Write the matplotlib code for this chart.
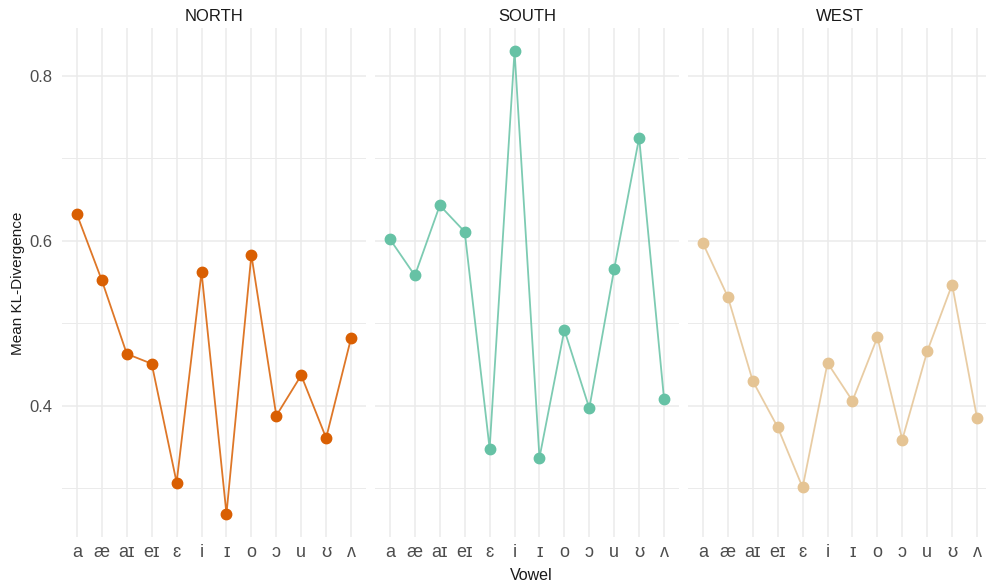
import numpy as np
import matplotlib.pyplot as plt

plt.rcParams['font.family'] = ['Liberation Sans', 'DejaVu Sans']

vowels = ['a', 'æ', 'aɪ', 'eɪ', 'ɛ', 'i', 'ɪ', 'o', 'ɔ', 'u', 'ʊ', 'ʌ']
regions = ['NORTH', 'SOUTH', 'WEST']

north = [0.632, 0.552, 0.463, 0.451, 0.307, 0.562, 0.269, 0.583, 0.388, 0.437, 0.361, 0.482]
south = [0.602, 0.558, 0.643, 0.611, 0.348, 0.830, 0.337, 0.492, 0.397, 0.566, 0.725, 0.408]
west = [0.597, 0.532, 0.430, 0.374, 0.301, 0.452, 0.406, 0.483, 0.359, 0.466, 0.547, 0.385]

colors = ['#D95F02', '#66C2A5', '#E5C494']
series = [north, south, west]

W, H = 986, 586
fig = plt.figure(figsize=(W / 100, H / 100), dpi=100)

# shared y range with ggplot-style 5% expansion
allv = np.concatenate(series)
lo, hi = allv.min(), allv.max()
pad = 0.05 * (hi - lo)
ylim = (lo - pad, hi + pad)

top, bottom = 28, 537
lefts = [62, 375, 688]
pw = 304
grid_c = '#EBEBEB'

x = np.arange(len(vowels))
for i, (reg, vals, col) in enumerate(zip(regions, series, colors)):
    ax = fig.add_axes([lefts[i] / W, (H - bottom) / H, pw / W, (bottom - top) / H])
    ax.plot(x, vals, color=col, lw=1.3, alpha=0.85, zorder=3)
    ax.plot(x, vals, 'o', color=col, ms=7.5, mec=col, zorder=4)
    ax.set_xlim(-0.6, len(vowels) - 1 + 0.6)
    ax.set_ylim(*ylim)
    ax.set_xticks(x)
    ax.set_xticklabels(vowels, fontsize=13, color='#4D4D4D')
    ax.set_yticks([0.4, 0.6, 0.8])
    ax.set_yticks([0.3, 0.5, 0.7], minor=True)
    ax.grid(True, which='major', color=grid_c, lw=1.1, zorder=0)
    ax.grid(True, which='minor', axis='y', color=grid_c, lw=0.7, zorder=0)
    ax.tick_params(which='both', length=0)
    ax.tick_params(axis='x', pad=5)
    ax.tick_params(axis='y', pad=7, labelsize=12, labelcolor='#4D4D4D')
    if i > 0:
        ax.tick_params(axis='y', labelleft=False)
    for s in ax.spines.values():
        s.set_visible(False)
    ax.set_title(reg, fontsize=12, color='#1A1A1A', pad=5)

fig.text(18 / W, 1 - 283 / H, 'Mean KL-Divergence', rotation=90, ha='center', va='center',
         fontsize=11, color='#1A1A1A')
fig.text(531 / W, 1 - 575 / H, 'Vowel', ha='center', va='center', fontsize=11.5, color='#1A1A1A')

fig.savefig('out.png', dpi=100, facecolor='white')
